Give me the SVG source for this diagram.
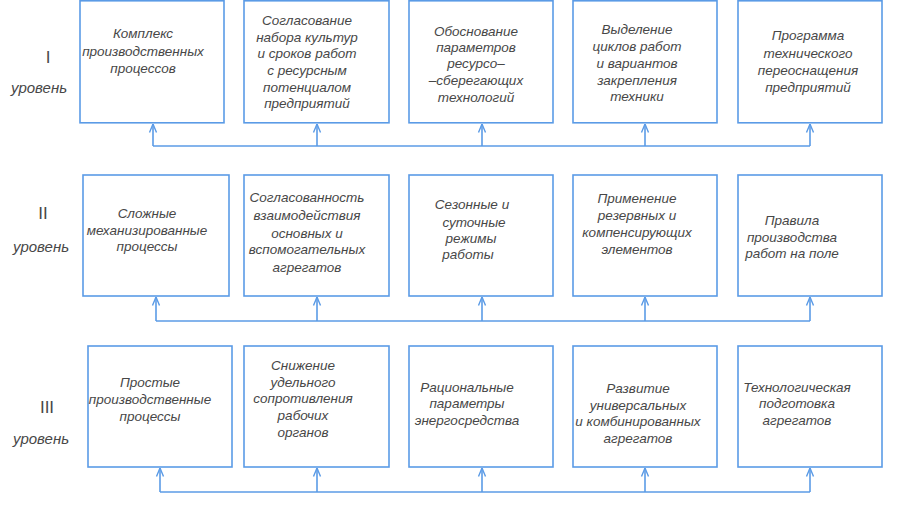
<svg xmlns="http://www.w3.org/2000/svg" width="904" height="507" viewBox="0 0 904 507">
<defs>
<style>
.box{fill:#fff;stroke:#5b9be6;stroke-width:1.6}
.ln{fill:none;stroke:#5b9be6;stroke-width:1.6}
.t{font-family:"Liberation Sans",Arial,sans-serif;font-style:italic;font-size:13.5px;fill:#474747;text-anchor:middle;dominant-baseline:central}
.lv{font-family:"Liberation Sans",Arial,sans-serif;font-style:italic;font-size:15px;fill:#474747;text-anchor:middle;dominant-baseline:central}
.rn{font-family:"Liberation Sans",Arial,sans-serif;font-size:17px;fill:#474747;text-anchor:middle;dominant-baseline:central}
</style>
<marker id="ah" viewBox="0 0 10 10" refX="9.5" refY="5" markerWidth="10" markerHeight="10" markerUnits="userSpaceOnUse" orient="auto">
<path d="M1,1.5 L9.5,5 L1,8.5" fill="none" stroke="#5b9be6" stroke-width="1.4"/>
</marker>
</defs>
<rect width="904" height="507" fill="#fff"/>

<g id="levels">
<text class="rn" x="48" y="57">I</text>
<text class="lv" x="39" y="87">уровень</text>
<text class="rn" x="43" y="213">II</text>
<text class="lv" x="41" y="246">уровень</text>
<text class="rn" x="47" y="407">III</text>
<text class="lv" x="41" y="438">уровень</text>
</g>

<g id="connectors">
<path class="ln" d="M153,146 H810"/>
<path class="ln" d="M153,146 V124" marker-end="url(#ah)"/>
<path class="ln" d="M317,146 V124" marker-end="url(#ah)"/>
<path class="ln" d="M482,146 V124" marker-end="url(#ah)"/>
<path class="ln" d="M645,146 V124" marker-end="url(#ah)"/>
<path class="ln" d="M810,146 V124" marker-end="url(#ah)"/>

<path class="ln" d="M156,321 H810"/>
<path class="ln" d="M156,321 V297" marker-end="url(#ah)"/>
<path class="ln" d="M317,321 V297" marker-end="url(#ah)"/>
<path class="ln" d="M482,321 V297" marker-end="url(#ah)"/>
<path class="ln" d="M645,321 V297" marker-end="url(#ah)"/>
<path class="ln" d="M810,321 V297" marker-end="url(#ah)"/>

<path class="ln" d="M160,492 H810"/>
<path class="ln" d="M160,492 V468" marker-end="url(#ah)"/>
<path class="ln" d="M317,492 V468" marker-end="url(#ah)"/>
<path class="ln" d="M482,492 V468" marker-end="url(#ah)"/>
<path class="ln" d="M645,492 V468" marker-end="url(#ah)"/>
<path class="ln" d="M810,492 V468" marker-end="url(#ah)"/>
</g>

<g id="n1-1"><rect class="box" x="80" y="0.8" width="144" height="122"/>
<text class="t"><tspan x="143" y="33">Комплекс</tspan><tspan x="143" y="51">производственных</tspan><tspan x="143" y="68">процессов</tspan></text></g>
<g id="n1-2"><rect class="box" x="244" y="0.8" width="145" height="122"/>
<text class="t"><tspan x="307" y="20">Согласование</tspan><tspan x="307" y="37">набора культур</tspan><tspan x="307" y="53">и сроков работ</tspan><tspan x="307" y="70">с ресурсным</tspan><tspan x="307" y="87">потенциалом</tspan><tspan x="307" y="103">предприятий</tspan></text></g>
<g id="n1-3"><rect class="box" x="409" y="0.8" width="144" height="122"/>
<text class="t"><tspan x="476" y="31">Обоснование</tspan><tspan x="476" y="47">параметров</tspan><tspan x="476" y="63">ресурсо–</tspan><tspan x="476" y="80">–сберегающих</tspan><tspan x="476" y="97">технологий</tspan></text></g>
<g id="n1-4"><rect class="box" x="573" y="0.8" width="144" height="122"/>
<text class="t"><tspan x="637" y="29">Выделение</tspan><tspan x="637" y="46">циклов работ</tspan><tspan x="637" y="63">и вариантов</tspan><tspan x="637" y="80">закрепления</tspan><tspan x="637" y="96">техники</tspan></text></g>
<g id="n1-5"><rect class="box" x="738" y="0.8" width="144" height="122"/>
<text class="t"><tspan x="808" y="35">Программа</tspan><tspan x="808" y="53">технического</tspan><tspan x="808" y="70">переоснащения</tspan><tspan x="808" y="87">предприятий</tspan></text></g>

<g id="n2-1"><rect class="box" x="83" y="175" width="146" height="121"/>
<text class="t"><tspan x="147" y="213">Сложные</tspan><tspan x="147" y="230">механизированные</tspan><tspan x="147" y="246">процессы</tspan></text></g>
<g id="n2-2"><rect class="box" x="244" y="175" width="145" height="121"/>
<text class="t"><tspan x="307" y="197">Согласованность</tspan><tspan x="307" y="215">взаимодействия</tspan><tspan x="307" y="233">основных и</tspan><tspan x="307" y="249">вспомогательных</tspan><tspan x="307" y="267">агрегатов</tspan></text></g>
<g id="n2-3"><rect class="box" x="409" y="175" width="144" height="121"/>
<text class="t"><tspan x="472" y="204">Сезонные и</tspan><tspan x="474" y="222">суточные</tspan><tspan x="471" y="238">режимы</tspan><tspan x="468" y="254">работы</tspan></text></g>
<g id="n2-4"><rect class="box" x="573" y="175" width="144" height="121"/>
<text class="t"><tspan x="637" y="198">Применение</tspan><tspan x="637" y="215">резервных и</tspan><tspan x="637" y="232">компенсирующих</tspan><tspan x="637" y="249">элементов</tspan></text></g>
<g id="n2-5"><rect class="box" x="738" y="175" width="144" height="121"/>
<text class="t"><tspan x="792" y="220">Правила</tspan><tspan x="792" y="237">производства</tspan><tspan x="792" y="253">работ на поле</tspan></text></g>

<g id="n3-1"><rect class="box" x="88" y="346" width="144" height="121"/>
<text class="t"><tspan x="150" y="382">Простые</tspan><tspan x="150" y="399">производственные</tspan><tspan x="150" y="416">процессы</tspan></text></g>
<g id="n3-2"><rect class="box" x="244" y="346" width="145" height="121"/>
<text class="t"><tspan x="303" y="365">Снижение</tspan><tspan x="303" y="382">удельного</tspan><tspan x="303" y="398">сопротивления</tspan><tspan x="303" y="415">рабочих</tspan><tspan x="303" y="432">органов</tspan></text></g>
<g id="n3-3"><rect class="box" x="409" y="346" width="144" height="121"/>
<text class="t"><tspan x="467" y="387">Рациональные</tspan><tspan x="467" y="403">параметры</tspan><tspan x="467" y="420">энергосредства</tspan></text></g>
<g id="n3-4"><rect class="box" x="573" y="346" width="144" height="121"/>
<text class="t"><tspan x="638" y="388">Развитие</tspan><tspan x="638" y="405">универсальных</tspan><tspan x="638" y="421">и комбинированных</tspan><tspan x="638" y="438">агрегатов</tspan></text></g>
<g id="n3-5"><rect class="box" x="738" y="346" width="144" height="121"/>
<text class="t"><tspan x="797" y="387">Технологическая</tspan><tspan x="797" y="403">подготовка</tspan><tspan x="797" y="420">агрегатов</tspan></text></g>
</svg>
